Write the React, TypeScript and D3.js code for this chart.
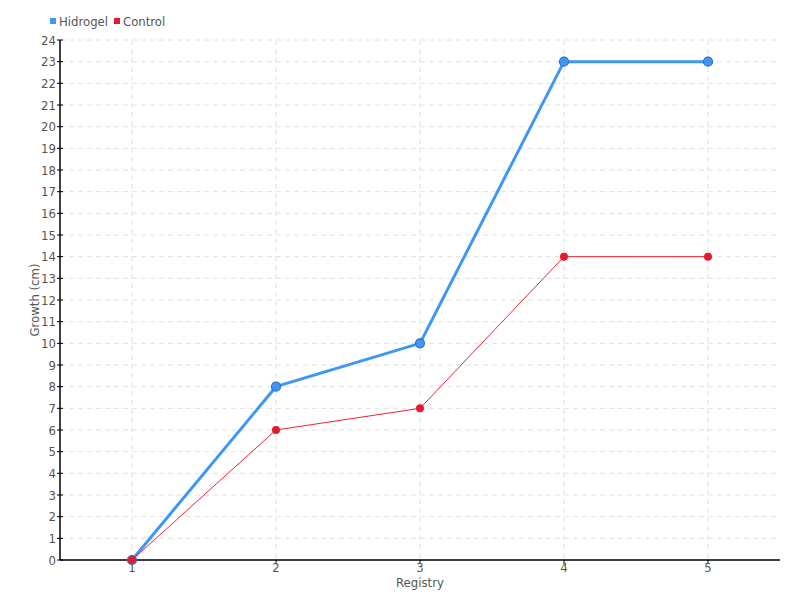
import React from "react";
import * as d3 from "d3";

const categories = ["1", "2", "3", "4", "5"];
const hidrogel = [0, 8, 10, 23, 23];
const control = [0, 6, 7, 14, 14];
const yTicks = d3.range(0, 25);

const W = 800, H = 600;
const L = 60, R = 780, T = 40, B = 560;
const FONT = "'DejaVu Sans Condensed', 'Liberation Sans Narrow', sans-serif";
const TXT = "#555";

export default function App() {
  const x = d3.scaleBand<string>().domain(categories).range([L, R]);
  const y = d3.scaleLinear().domain([0, 24]).range([B, T]);
  const cx = (c: string) => (x(c) as number) + x.bandwidth() / 2;
  const line = d3.line<number>().x((_, i) => cx(categories[i])).y((d) => y(d));

  return (
    <svg width={W} height={H} style={{ position: "absolute", left: 0, top: 0, background: "#fff" }}>
      {/* grid */}
      {yTicks.map((t) => (
        <line key={"gy" + t} x1={L} x2={R} y1={y(t)} y2={y(t)} stroke="#e0e0e0" strokeDasharray="5,4" />
      ))}
      {categories.map((c) => (
        <line key={"gx" + c} x1={cx(c)} x2={cx(c)} y1={T} y2={B} stroke="#e0e0e0" strokeDasharray="5,4" />
      ))}
      {/* axes */}
      <line x1={L} x2={L} y1={T} y2={B} stroke="#000" strokeWidth={1.5} />
      <line x1={L} x2={R} y1={B} y2={B} stroke="#000" strokeWidth={1.5} />
      {yTicks.map((t) => (
        <g key={"yt" + t}>
          <line x1={L - 3} x2={L + 3} y1={y(t)} y2={y(t)} stroke="#000" />
          <text x={L - 4} y={y(t)} dy="0.35em" textAnchor="end" fontSize={13} fontFamily={FONT} fill={TXT}>{t}</text>
        </g>
      ))}
      {categories.map((c) => (
        <g key={"xt" + c}>
          <line x1={cx(c)} x2={cx(c)} y1={B} y2={B + 4} stroke="#000" />
          <text x={cx(c)} y={B + 12} textAnchor="middle" fontSize={13} fontFamily={FONT} fill={TXT}>{c}</text>
        </g>
      ))}
      <text x={(L + R) / 2} y={587} textAnchor="middle" fontSize={13} fontFamily={FONT} fill={TXT}>Registry</text>
      <text transform={`translate(39,${(T + B) / 2}) rotate(-90)`} textAnchor="middle" fontSize={13} fontFamily={FONT} fill={TXT}>Growth (cm)</text>
      {/* series */}
      <path d={line(hidrogel) as string} fill="none" stroke="#3f97f5" strokeWidth={3} />
      {hidrogel.map((v, i) => (
        <circle key={"h" + i} cx={cx(categories[i])} cy={y(v)} r={4.5} fill="#3f97f5" stroke="#2a6fc4" strokeWidth={1.2} />
      ))}
      <path d={line(control) as string} fill="none" stroke="#ee2233" strokeWidth={1} />
      {control.map((v, i) => (
        <circle key={"c" + i} cx={cx(categories[i])} cy={y(v)} r={4} fill="#e8192c" />
      ))}
      {/* legend */}
      <rect x={50} y={18} width={6} height={6} fill="#3f97f5" />
      <text x={59} y={26} fontSize={13} fontFamily={FONT} fill={TXT}>Hidrogel</text>
      <rect x={114} y={18} width={6} height={6} fill="#e8192c" />
      <text x={123} y={26} fontSize={13} fontFamily={FONT} fill={TXT}>Control</text>
    </svg>
  );
}
